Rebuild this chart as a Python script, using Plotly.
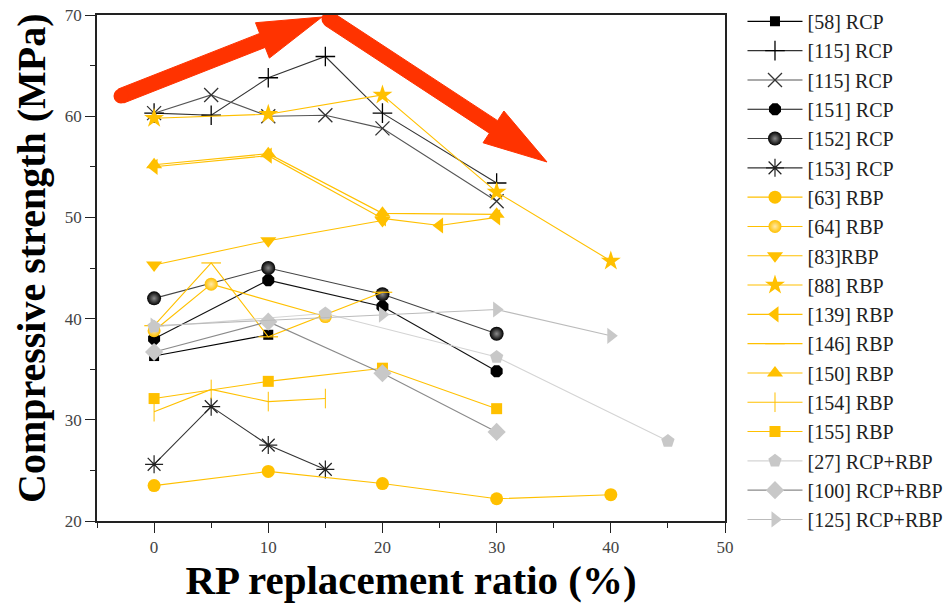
import plotly.graph_objects as go

# ---------------- data ----------------
names = ["[58] RCP", "[115] RCP", "[115] RCP ", "[151] RCP", "[152] RCP", "[153] RCP",
         "[63] RBP", "[64] RBP", "[83]RBP", "[88] RBP", "[139] RBP", "[146] RBP",
         "[150] RBP", "[154] RBP", "[155] RBP", "[27] RCP+RBP", "[100] RCP+RBP", "[125] RCP+RBP"]

x58 = [0, 10];                 y58 = [36.3, 38.4]
x115a = [0, 5, 10, 15, 20, 30]; y115a = [60.3, 60.1, 63.8, 65.9, 60.3, 53.4]
x115b = [0, 5, 10, 15, 20, 30]; y115b = [60.3, 62.1, 60.0, 60.1, 58.8, 51.6]
x151 = [0, 10, 20, 30];        y151 = [38.0, 43.8, 41.2, 34.8]
x152 = [0, 10, 20, 30];        y152 = [42.0, 45.0, 42.4, 38.5]
x153 = [0, 5, 10, 15];         y153 = [25.6, 31.3, 27.5, 25.1]
x63 = [0, 10, 20, 30, 40];     y63 = [23.5, 24.9, 23.7, 22.2, 22.6]
x64 = [0, 5, 15];              y64 = [38.8, 43.4, 40.2]
x83 = [0, 10, 20];             y83 = [45.3, 47.7, 49.7]
x88 = [0, 10, 20, 30, 40];     y88 = [59.8, 60.2, 62.1, 52.5, 45.7]
x139 = [0, 10, 20, 25, 30];    y139 = [55.0, 56.1, 49.9, 49.2, 50.0]
x146 = [0, 5, 10, 20];         y146 = [39.3, 45.5, 38.2, 42.6]
x150 = [0, 10, 20, 30];        y150 = [55.2, 56.3, 50.4, 50.3]
x154 = [0, 5, 10, 15];         y154 = [30.8, 33.0, 31.8, 32.1]
x155 = [0, 10, 20, 30];        y155 = [32.1, 33.8, 35.1, 31.1]
x27 = [0, 15, 30, 45];         y27 = [39.2, 40.5, 36.2, 27.9]
x100 = [0, 10, 20, 30];        y100 = [36.7, 39.7, 34.6, 28.8]
x125 = [0, 20, 30, 40];        y125 = [39.3, 40.4, 40.9, 38.3]

x_ticks = [0, 10, 20, 30, 40, 50]
y_ticks = [20, 30, 40, 50, 60, 70]

# ---------------- layout geometry ----------------
W, H = 952, 605
ML, MR, MT, MB = 97, 227, 15, 84
XR = [-5, 50]
YR = [20, 70]
PW, PH = W - ML - MR, H - MT - MB

# ---------------- style ----------------
YEL = "#FFC000"
GRY = "#C8C8C8"
series = [
    (x58, y58, dict(symbol="square", size=10, color="black"), "black"),
    (x115a, y115a, dict(symbol="cross-thin", size=14, color="black", line=dict(width=1.3, color="black")), "#333333"),
    (x115b, y115b, dict(symbol="x-thin", size=14, color="#333", line=dict(width=1.3, color="#333")), "#555555"),
    (x151, y151, dict(symbol="octagon", size=13, color="black"), "#111111"),
    (x152, y152, dict(symbol="circle", size=14, color="black", gradient=dict(type="radial", color="#8a8a8a")), "#444444"),
    (x153, y153, dict(symbol="asterisk-open", size=15, color="#222", line=dict(width=1.2, color="#222")), "#333333"),
    (x63, y63, dict(symbol="circle", size=13, color=YEL), YEL),
    (x64, y64, dict(symbol="circle", size=13, color=YEL, gradient=dict(type="radial", color="#ffe9a8")), YEL),
    (x83, y83, dict(symbol="triangle-down", size=14, color=YEL), YEL),
    (x88, y88, dict(symbol="star", size=15, color=YEL), YEL),
    (x139, y139, dict(symbol="triangle-left", size=14, color=YEL), YEL),
    (x146, y146, dict(symbol="line-ew", size=14, color=YEL, line=dict(width=1.2, color=YEL)), YEL),
    (x150, y150, dict(symbol="triangle-up", size=14, color=YEL), YEL),
    (x154, y154, dict(symbol="line-ns", size=14, color=YEL, line=dict(width=1.0, color=YEL)), YEL),
    (x155, y155, dict(symbol="square", size=11, color=YEL), YEL),
    (x27, y27, dict(symbol="pentagon", size=14, color=GRY), "#d4d4d4"),
    (x100, y100, dict(symbol="diamond", size=14, color=GRY), "#8a8a8a"),
    (x125, y125, dict(symbol="triangle-right", size=14, color=GRY), "#bbbbbb"),
]

fig = go.Figure()
for i, (xs, ys, mk, lc) in enumerate(series):
    fig.add_trace(go.Scatter(
        x=xs, y=ys, mode="lines+markers", name=names[i],
        legendgroup="g%d" % i,
        marker=mk, line=dict(color=lc, width=1.1),
        cliponaxis=False,
    ))

SERIF = "Liberation Serif, Times New Roman, serif"
axis_common = dict(
    showline=True, linecolor="#222", linewidth=1.5, mirror=True,
    ticks="outside", ticklen=10, tickwidth=1.2, tickcolor="#222",
    showgrid=False, zeroline=False, ticklabeloverflow="allow",
    tickfont=dict(family=SERIF, size=17, color="#444"),
    minor=dict(ticks="outside", ticklen=5, tickwidth=1.2, tickcolor="#222", dtick=5),
)

fig.update_xaxes(range=XR, tickvals=x_ticks, ticktext=[str(v) for v in x_ticks],
                 title=dict(text="<b>RP replacement ratio (%)</b>", font=dict(family=SERIF, size=41, color="black"),
                            standoff=4),
                 **axis_common)
fig.update_yaxes(range=YR, tickvals=y_ticks, ticktext=[str(v) for v in y_ticks], **axis_common)

# y-axis title as rotated annotation (placed like the reference)
fig.add_annotation(xref="paper", yref="paper", x=(31 - ML) / PW, y=1 - (258 - MT) / PH,
                   xanchor="center", yanchor="middle", textangle=-90, showarrow=False,
                   text="<b>Compressive strength (MPa)</b>",
                   font=dict(family=SERIF, size=40, color="black"))


# ---------------- red trend arrows (decoration, defined in page pixels) ----------------
def to_data(px, py):
    fx, fy = px - ML, py - MT
    return XR[0] + fx / PW * (XR[1] - XR[0]), YR[1] - fy / PH * (YR[1] - YR[0])


def arrow_path(tail, tip, head_len=64, head_half=19, shaft_half=7.5):
    tx, ty = tail
    hx, hy = tip
    dx, dy = hx - tx, hy - ty
    L = (dx * dx + dy * dy) ** 0.5
    ux, uy = dx / L, dy / L
    nx, ny = -uy, ux
    bx, by = hx - head_len * ux, hy - head_len * uy
    pts = [
        (tx + shaft_half * nx, ty + shaft_half * ny),
        (bx + shaft_half * nx, by + shaft_half * ny),
        (bx + head_half * nx, by + head_half * ny),
        (hx, hy),
        (bx - head_half * nx, by - head_half * ny),
        (bx - shaft_half * nx, by - shaft_half * ny),
        (tx - shaft_half * nx, ty - shaft_half * ny),
    ]
    d = []
    for k, (px, py) in enumerate(pts):
        X, Y = to_data(px, py)
        d.append(("M" if k == 0 else "L") + f"{X:.4f},{Y:.4f}")
    return " ".join(d) + " Z"


RED = "#FF3300"
for tail, tip in [((121, 96), (322, 17)), ((329, 19), (547, 162))]:
    fig.add_shape(type="path", xref="x", yref="y", path=arrow_path(tail, tip),
                  fillcolor=RED, line=dict(color=RED, width=1), layer="above")
    X0, Y0 = to_data(tail[0] - 7.5, tail[1] - 7.5)
    X1, Y1 = to_data(tail[0] + 7.5, tail[1] + 7.5)
    fig.add_shape(type="circle", xref="x", yref="y", x0=X0, y0=Y0, x1=X1, y1=Y1,
                  fillcolor=RED, line=dict(color=RED, width=0), layer="above")

fig.update_layout(
    width=W, height=H,
    margin=dict(l=ML, r=MR, t=MT, b=MB, autoexpand=False),
    paper_bgcolor="white", plot_bgcolor="white",
    font=dict(family=SERIF, color="#222"),
    legend=dict(x=(745 - ML) / PW - 0.004, y=1.026, xanchor="left", yanchor="top",
                font=dict(family=SERIF, size=20, color="#222"),
                traceorder="grouped", tracegroupgap=0.3, itemwidth=55,
                maxheight=700,
                bgcolor="rgba(0,0,0,0)"),
)

# remove the default 8px page margin so the figure fills the window exactly
fig.write_html("out.html", config={"displayModeBar": False},
               post_script="document.body.style.margin='0';")
